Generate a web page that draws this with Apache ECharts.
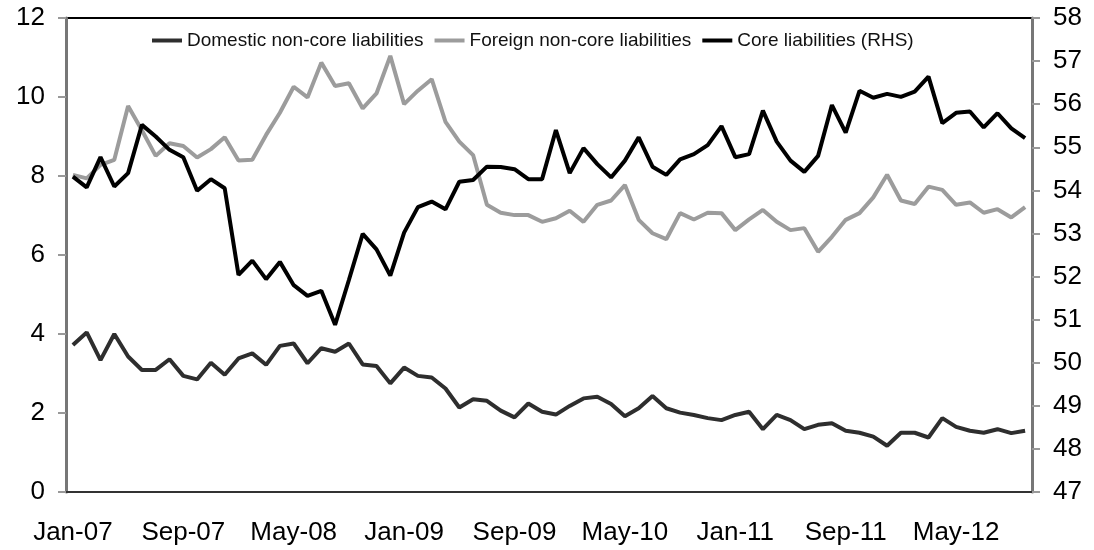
<!DOCTYPE html>
<html>
<head>
<meta charset="utf-8">
<script src="https://cdn.jsdelivr.net/npm/echarts@6/dist/echarts.min.js"></script>
<style>
  html, body { margin: 0; padding: 0; background: #fff; }
  #main { width: 1094px; height: 550px; }
</style>
</head>
<body>
<div id="main"></div>
<script>
// monthly, Jan-07 .. Oct-12
const monthNames = ['Jan', 'Feb', 'Mar', 'Apr', 'May', 'Jun', 'Jul', 'Aug', 'Sep', 'Oct', 'Nov', 'Dec']
const years = ['07', '08', '09', '10', '11', '12']
const months = []
years.forEach(y => monthNames.forEach(m => months.push(m + '-' + y)))
months.length = 70

const domestic = [
  3.72, 4.04, 3.34, 4.00, 3.43, 3.09, 3.09, 3.36, 2.94, 2.85, 3.27, 2.97,
  3.38, 3.51, 3.22, 3.70, 3.76, 3.26, 3.64, 3.55, 3.76, 3.23, 3.19, 2.75,
  3.15, 2.94, 2.90, 2.62, 2.14, 2.35, 2.31, 2.06, 1.89, 2.24, 2.03, 1.96,
  2.18, 2.37, 2.41, 2.23, 1.92, 2.12, 2.43, 2.12, 2.01, 1.95, 1.87, 1.82,
  1.95, 2.03, 1.59, 1.95, 1.82, 1.59, 1.70, 1.74, 1.55, 1.50, 1.40, 1.17,
  1.50, 1.50, 1.38, 1.87, 1.65, 1.55, 1.50, 1.59, 1.49, 1.55
]

const foreign = [
  8.03, 7.94, 8.28, 8.41, 9.77, 9.16, 8.51, 8.83, 8.76, 8.47, 8.68, 8.98,
  8.39, 8.41, 9.04, 9.60, 10.26, 9.99, 10.87, 10.28, 10.35, 9.71, 10.09, 11.04,
  9.82, 10.16, 10.45, 9.37, 8.87, 8.53, 7.27, 7.07, 7.01, 7.01, 6.84, 6.93,
  7.12, 6.84, 7.27, 7.38, 7.77, 6.89, 6.55, 6.40, 7.06, 6.90, 7.07, 7.06,
  6.63, 6.90, 7.14, 6.84, 6.63, 6.68, 6.08, 6.46, 6.89, 7.06, 7.46, 8.03,
  7.38, 7.29, 7.73, 7.65, 7.27, 7.33, 7.07, 7.16, 6.95, 7.21
]

const core = [
  54.32, 54.07, 54.77, 54.09, 54.40, 55.52, 55.25, 54.94, 54.77, 53.99, 54.26, 54.05,
  52.04, 52.37, 51.94, 52.34, 51.80, 51.55, 51.67, 50.88, 51.92, 52.99, 52.63, 52.02,
  53.02, 53.61, 53.74, 53.56, 54.20, 54.24, 54.55, 54.54, 54.49, 54.26, 54.26, 55.40,
  54.40, 54.98, 54.61, 54.30, 54.69, 55.23, 54.55, 54.36, 54.72, 54.84, 55.05, 55.49,
  54.77, 54.84, 55.85, 55.13, 54.69, 54.43, 54.80, 55.98, 55.34, 56.31, 56.15, 56.24,
  56.17, 56.29, 56.64, 55.56, 55.80, 55.83, 55.46, 55.79, 55.44, 55.21
]

const seriesNames = ['Domestic non-core liabilities', 'Foreign non-core liabilities', 'Core liabilities (RHS)']

const font = 'Liberation Sans, Arial, sans-serif'

let chart = echarts.init(document.getElementById('main'), null, { renderer: 'canvas' })

let options = {
  animation: false,
  backgroundColor: '#fff',
  grid: {
    left: 66,
    right: 62,
    top: 18,
    bottom: 58,
    show: true,
    borderColor: '#000',
    borderWidth: 2
  },
  legend: {
    left: 152,
    top: 31,
    padding: 0,
    icon: 'rect',
    itemWidth: 30,
    itemHeight: 4,
    itemGap: 11,
    textStyle: { fontFamily: font, fontSize: 19, color: '#111' },
    data: seriesNames
  },
  xAxis: {
    type: 'category',
    data: months,
    boundaryGap: true,
    axisLine: { lineStyle: { color: '#333', width: 2 } },
    axisTick: { interval: 0, length: 7, lineStyle: { color: '#999', width: 2 } },
    axisLabel: { interval: 7, margin: 28, fontFamily: font, fontSize: 26, color: '#000' },
    splitLine: { show: false }
  },
  yAxis: [
    {
      type: 'value',
      min: 0,
      max: 12,
      interval: 2,
      axisLine: { show: true, lineStyle: { color: '#777', width: 3 } },
      axisTick: { show: true, length: 8, lineStyle: { color: '#999', width: 2 } },
      axisLabel: { margin: 21, fontFamily: font, fontSize: 26, color: '#000' },
      splitLine: { show: false }
    },
    {
      type: 'value',
      min: 47,
      max: 58,
      interval: 1,
      position: 'right',
      axisLine: { show: true, lineStyle: { color: '#777', width: 3 } },
      axisTick: { show: true, length: 8, lineStyle: { color: '#999', width: 2 } },
      axisLabel: { margin: 21, fontFamily: font, fontSize: 26, color: '#000' },
      splitLine: { show: false }
    }
  ],
  series: [
    {
      name: seriesNames[0],
      type: 'line',
      data: domestic,
      yAxisIndex: 0,
      symbol: 'none',
      itemStyle: { color: '#2e2e2e' },
      lineStyle: { color: '#2e2e2e', width: 4 }
    },
    {
      name: seriesNames[1],
      type: 'line',
      data: foreign,
      yAxisIndex: 0,
      symbol: 'none',
      itemStyle: { color: '#9c9c9c' },
      lineStyle: { color: '#9c9c9c', width: 4 }
    },
    {
      name: seriesNames[2],
      type: 'line',
      data: core,
      yAxisIndex: 1,
      symbol: 'none',
      itemStyle: { color: '#000' },
      lineStyle: { color: '#000', width: 4 }
    }
  ]
}

options && chart.setOption(options)
</script>
</body>
</html>
